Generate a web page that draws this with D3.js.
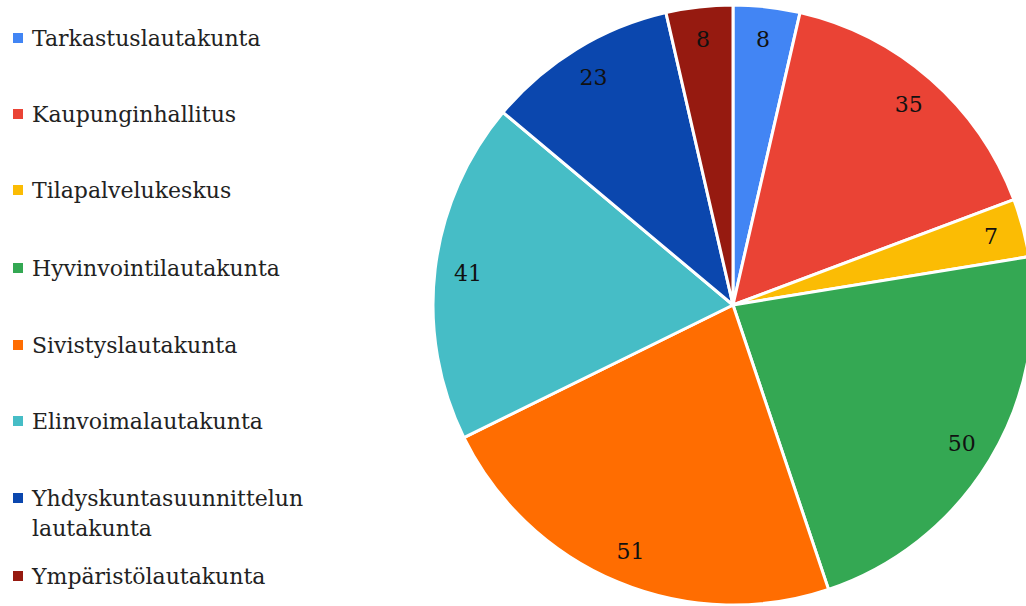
<!doctype html>
<html>
<head>
	<meta charset="utf-8">
	<script src="https://cdn.jsdelivr.net/npm/d3@7/dist/d3.min.js"></script>
	<style>
		body { margin: 0; background: #fff; }
		text { font-family: "DejaVu Serif", serif; }
	</style>
</head>
<body>
	<script>
		var categories = ["Tarkastuslautakunta", "Kaupunginhallitus", "Tilapalvelukeskus",
			"Hyvinvointilautakunta", "Sivistyslautakunta", "Elinvoimalautakunta",
			"Yhdyskuntasuunnittelun lautakunta", "Ympäristölautakunta"]
		var values = [8, 35, 7, 50, 51, 41, 23, 8]
		var colors = ["#4285f4", "#ea4335", "#fbbc04", "#34a853", "#ff6d01", "#46bdc6", "#0b47ae", "#961a10"]
		var legendLines = [["Tarkastuslautakunta"], ["Kaupunginhallitus"], ["Tilapalvelukeskus"],
			["Hyvinvointilautakunta"], ["Sivistyslautakunta"], ["Elinvoimalautakunta"],
			["Yhdyskuntasuunnittelun", "lautakunta"], ["Ympäristölautakunta"]]
		var legendY = [38, 114, 190, 268, 345, 421, 498, 576]

		var width = 1026
		var height = 606
		var cx = 733, cy = 305, radius = 300

		var svg = d3.select("body")
			.append("svg")
			.attr("width", width)
			.attr("height", height)

		var pie = d3.pie().sort(null).value(function(d) { return d })
		var arc = d3.arc().innerRadius(0).outerRadius(radius)
		var labelArc = d3.arc().innerRadius(267).outerRadius(267)

		var g = svg.append("g").attr("transform", "translate(" + cx + "," + cy + ")")

		var slices = g.selectAll("g.slice")
			.data(pie(values))
			.enter()
			.append("g")
			.attr("class", "slice")

		slices.append("path")
			.attr("d", arc)
			.attr("fill", function(d, i) { return colors[i] })
			.attr("stroke", "#fff")
			.attr("stroke-width", 3)
			.attr("stroke-linejoin", "round")

		slices.append("text")
			.attr("transform", function(d) { return "translate(" + labelArc.centroid(d) + ")" })
			.attr("text-anchor", "middle")
			.attr("dy", "0.35em")
			.attr("font-size", 22)
			.attr("fill", "#111")
			.text(function(d) { return d.data })

		var legend = svg.selectAll("g.legend")
			.data(categories)
			.enter()
			.append("g")
			.attr("class", "legend")

		legend.append("rect")
			.attr("x", 13)
			.attr("y", function(d, i) { return legendY[i] - 5 })
			.attr("width", 10)
			.attr("height", 10)
			.attr("fill", function(d, i) { return colors[i] })

		legend.each(function(d, i) {
			var lines = legendLines[i]
			for (var k = 0; k < lines.length; k++) {
				d3.select(this).append("text")
					.attr("x", 32)
					.attr("y", legendY[i] + k * 30)
					.attr("dy", "0.35em")
					.attr("font-size", 22)
					.attr("fill", "#222")
					.text(lines[k])
			}
		})
	</script>
</body>
</html>
